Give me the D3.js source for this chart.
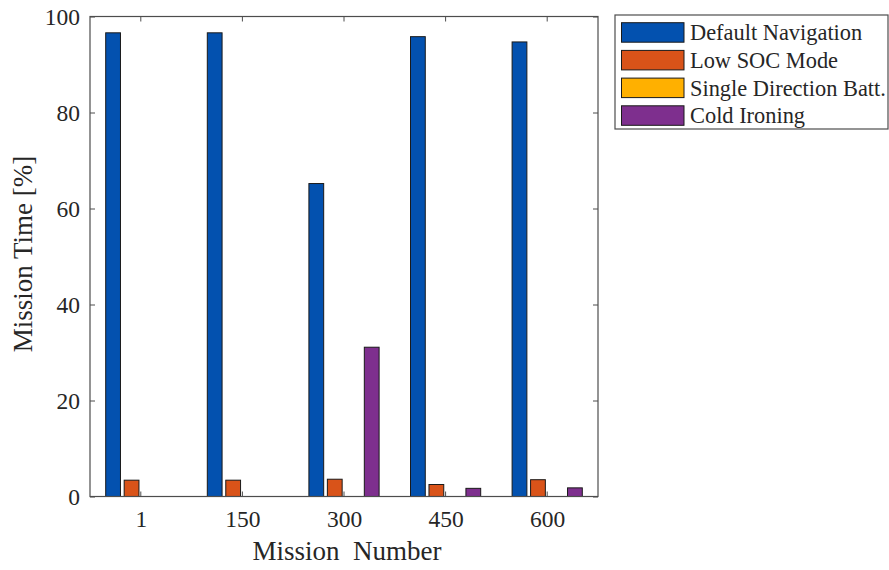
<!DOCTYPE html>
<html>
<head>
<meta charset="utf-8">
<script src="https://cdn.jsdelivr.net/npm/d3@7"></script>
<style>
  html, body { margin: 0; padding: 0; background: #fff; }
  svg { display: block; font-family: "Liberation Serif", "Times New Roman", serif; }
</style>
</head>
<body>
<svg id="chart" width="889" height="570"></svg>
<script>
// Mission groups and the share of mission time spent in each operating mode
const missions = ["1", "150", "300", "450", "600"];
const seriesNames = ["Default Navigation", "Low SOC Mode", "Single Direction Batt.", "Cold Ironing"];
const defaultNavigation = [96.6, 96.6, 65.2, 95.8, 94.7];
const lowSocMode = [3.4, 3.4, 3.6, 2.5, 3.5];
const singleDirectionBatt = [0, 0, 0, 0, 0];
const coldIroning = [0, 0, 31.1, 1.7, 1.8];
const seriesColors = ["#0351AF", "#D95319", "#FFB000", "#7E2F8E"];
const yTicks = [0, 20, 40, 60, 80, 100];

const seriesValues = [defaultNavigation, lowSocMode, singleDirectionBatt, coldIroning];

const serif = "'Liberation Serif', 'Times New Roman', serif";
const svg = d3.select("#chart");
const plot = { left: 90, right: 598, top: 16.5, bottom: 496.5 };

// Groups sit at 1..N on a numeric axis spanning [0.5, N + 0.5]
const x = d3.scaleLinear().domain([0.5, missions.length + 0.5]).range([plot.left, plot.right]);
const y = d3.scaleLinear().domain([0, 100]).range([plot.bottom, plot.top]);

// Grouped-bar layout: total group width and per-bar width in axis units
const nBars = seriesValues.length;
const groupWidth = Math.min(0.8, nBars / (nBars + 1.5));
const barWidth = groupWidth / nBars * 0.8;
const offset = i => -groupWidth / 2 + (2 * i + 1) * groupWidth / (2 * nBars);

const axisColor = "#4d4d4d";
const textColor = "#262626";
const tickLen = 5;

// Inner ticks along the bottom and top (drawn first so the bars sit on top)
const xTickG = svg.append("g");
missions.forEach((m, i) => {
  const px = x(i + 1);
  xTickG.append("line").attr("x1", px).attr("x2", px)
    .attr("y1", plot.bottom).attr("y2", plot.bottom - tickLen)
    .attr("stroke", axisColor).attr("stroke-width", 1);
  xTickG.append("line").attr("x1", px).attr("x2", px)
    .attr("y1", plot.top).attr("y2", plot.top + tickLen)
    .attr("stroke", axisColor).attr("stroke-width", 1);
});

// Bars
const barsG = svg.append("g");
seriesValues.forEach((vals, s) => {
  barsG.selectAll(null)
    .data(vals.map((v, i) => ({ v, i })).filter(d => d.v > 0))
    .enter().append("rect")
    .attr("x", d => x(d.i + 1 + offset(s) - barWidth / 2))
    .attr("width", d => x(barWidth) - x(0))
    .attr("y", d => y(d.v))
    .attr("height", d => y(0) - y(d.v))
    .attr("fill", seriesColors[s])
    .attr("stroke", "#1a1a1a")
    .attr("stroke-width", 1);
});

// Y axis on the left with inward ticks, mirrored ticks on the right
const yAxis = d3.axisLeft(y).tickValues(yTicks).tickSizeInner(-tickLen).tickSizeOuter(0).tickPadding(10);
const yG = svg.append("g").attr("transform", `translate(${plot.left},0)`).call(yAxis);
yG.attr("font-family", null);
yG.select(".domain").remove();
yG.selectAll(".tick line").attr("stroke", axisColor);
yG.selectAll(".tick text")
  .attr("font-size", 23.5).attr("fill", textColor).style("font-family", serif);

const yR = d3.axisRight(y).tickValues(yTicks).tickSizeInner(-tickLen).tickSizeOuter(0).tickFormat("");
const yRG = svg.append("g").attr("transform", `translate(${plot.right},0)`).call(yR);
yRG.select(".domain").remove();
yRG.selectAll(".tick line").attr("stroke", axisColor);

// X tick labels
const xAxis = d3.axisBottom(x).tickValues(missions.map((m, i) => i + 1))
  .tickFormat((d, i) => missions[i]).tickSize(0).tickPadding(14);
const xG = svg.append("g").attr("transform", `translate(0,${plot.bottom})`).call(xAxis);
xG.attr("font-family", null);
xG.select(".domain").remove();
xG.selectAll(".tick text")
  .attr("font-size", 23.5).attr("fill", textColor).style("font-family", serif);

// Plot frame
svg.append("rect")
  .attr("x", plot.left).attr("y", plot.top)
  .attr("width", plot.right - plot.left).attr("height", plot.bottom - plot.top)
  .attr("fill", "none").attr("stroke", axisColor).attr("stroke-width", 1.2);

// Axis titles
svg.append("text")
  .attr("x", 347).attr("y", 560)
  .attr("text-anchor", "middle").attr("font-size", 27).attr("fill", textColor)
  .style("font-family", serif)
  .style("white-space", "pre")
  .text("Mission  Number");

svg.append("text")
  .attr("transform", `translate(32,254) rotate(-90)`)
  .attr("text-anchor", "middle").attr("font-size", 27).attr("fill", textColor)
  .style("font-family", serif)
  .text("Mission Time [%]");

// Legend
const legend = { x: 615, y: 15, w: 273, h: 114 };
const lg = svg.append("g");
lg.append("rect")
  .attr("x", legend.x).attr("y", legend.y).attr("width", legend.w).attr("height", legend.h)
  .attr("fill", "#fff").attr("stroke", axisColor).attr("stroke-width", 1.2);
seriesNames.forEach((name, i) => {
  const top = 22.7 + i * 27.7;
  lg.append("rect")
    .attr("x", 621.5).attr("y", top).attr("width", 62.5).attr("height", 19.5)
    .attr("fill", seriesColors[i]).attr("stroke", "#1a1a1a").attr("stroke-width", 1);
  lg.append("text")
    .attr("x", 690).attr("y", top + 17.5)
    .attr("font-size", 22.4).attr("fill", textColor).style("font-family", serif)
    .text(name);
});
</script>
</body>
</html>
